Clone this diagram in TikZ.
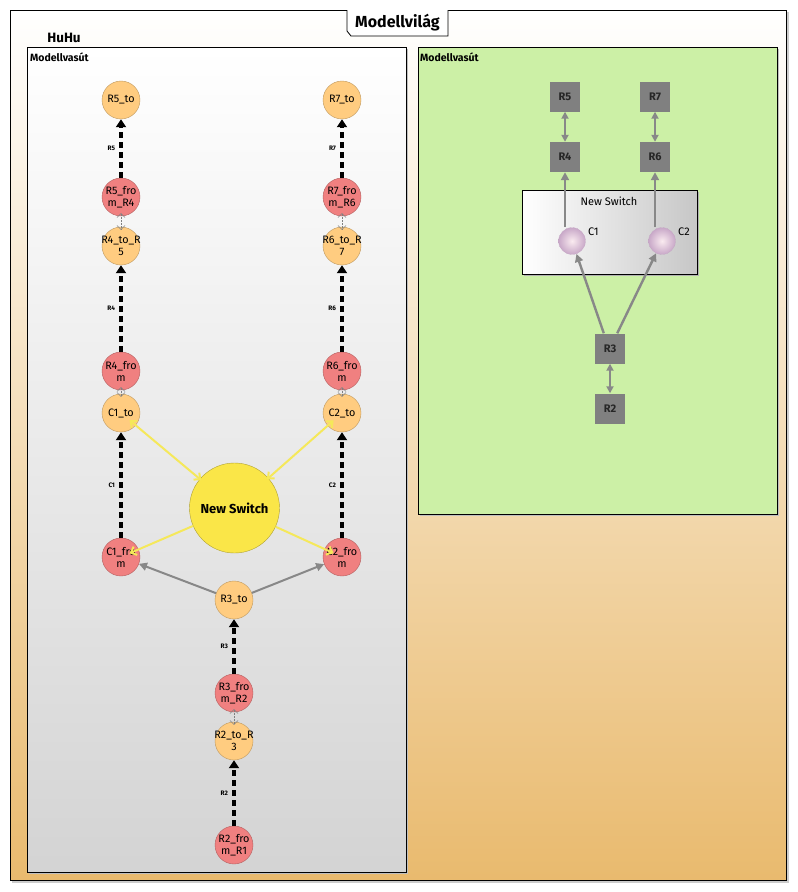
\documentclass[tikz,border=0pt]{standalone}
\usepackage{fontspec}
\setmainfont{Fira Sans}
\usetikzlibrary{arrows.meta,calc}
\definecolor{orangeN}{RGB}{255,204,128}
\definecolor{redN}{RGB}{240,128,128}
\definecolor{yellowN}{RGB}{250,230,72}
\definecolor{tanBg}{RGB}{233,186,110}
\definecolor{greenBg}{RGB}{204,240,166}
\definecolor{sqGray}{RGB}{128,128,128}
\definecolor{edgeGray}{RGB}{136,136,136}
\definecolor{lineYellow}{RGB}{245,232,90}
\tikzset{
  tonode/.style={circle,fill=orangeN,draw=orangeN!75!black,line width=0.4pt,minimum size=38pt,inner sep=-8pt,align=center,font=\fontsize{10.8}{12}\selectfont},
  fromnode/.style={tonode,fill=redN,draw=redN!75!black},
  switchnode/.style={circle,fill=yellowN,draw=yellowN!70!black,line width=0.4pt,minimum size=90pt,inner sep=0pt,font=\fontsize{13}{15}\selectfont\bfseries},
  dasharrow/.style={line width=4pt,dash pattern=on 6pt off 4pt,-{Triangle[length=8pt,width=10pt]}},
  dlabel/.style={left=4pt,font=\fontsize{6.5}{7}\selectfont\bfseries,inner sep=0pt},
  linkline/.style={draw=gray,line width=0.5pt,densely dotted,{Straight Barb[length=4pt,width=8pt]}-{Straight Barb[length=4pt,width=8pt]}},
  yline/.style={draw=lineYellow,line width=2pt},
  ybarb/.style={yline,-{Straight Barb[length=5pt,width=9pt]}},
  ybarbs/.style={yline,{Straight Barb[length=5pt,width=9pt]}-{Straight Barb[length=5pt,width=9pt]}},
  garrow/.style={draw=edgeGray,line width=2.4pt,-{Triangle[length=8pt,width=8pt]}},
  gdouble/.style={draw=edgeGray,line width=2.4pt,{Triangle[length=7pt,width=7pt]}-{Triangle[length=7pt,width=7pt]}},
  sqnode/.style={rectangle,fill=sqGray,minimum size=30pt,inner sep=0pt,font=\fontsize{11}{12}\selectfont\bfseries,text=black!85},
  portnode/.style={circle,inner color=purple!8,outer color={rgb,255:red,200;green,168;blue,200},draw={rgb,255:red,190;green,160;blue,190},densely dotted,line width=0.4pt,minimum size=27pt,inner sep=0pt},
  paneltitle/.style={font=\fontsize{10.5}{12}\selectfont\bfseries,anchor=west,inner sep=0pt}
}
\begin{document}
\begin{tikzpicture}[x=1pt,y=-1pt]
\useasboundingbox (0,0) rectangle (798,892);
\fill[white] (0,0) rectangle (798,892);
% outer frame
\fill[gray!40] (12,12) rectangle (789,883);
\shade[top color=white,bottom color=tanBg,draw=black,line width=0.8pt] (10,10) rectangle (786,880);
% title tab
\draw[fill=white,line width=0.8pt] (347,10) -- (347,31) -- (351,36) -- (448,36) -- (448,10);
\node[font=\fontsize{16}{18}\selectfont\bfseries] (title) at (397.5,23) {Modellvilág};
\node[font=\fontsize{13.5}{15}\selectfont\bfseries] (huhu) at (64,38) {HuHu};
% left panel
\fill[black!25] (29,49) rectangle (408,874);
\shade[top color=white,bottom color=black!17,draw=black,line width=0.8pt] (27,47) rectangle (406,872);
\node[paneltitle] (lt) at (30,57) {Modellvasút};
% right panel
\fill[black!25] (420,49) rectangle (779,516);
\draw[fill=greenBg,line width=0.8pt] (418,47) rectangle (777,514);
\node[paneltitle] (rt) at (420,57) {Modellvasút};

% ---- left graph nodes
\node[tonode] (r5to) at (121,100) {R5\_to};
\node[fromnode] (r5f) at (121,197) {R5\_fro\\m\_R4};
\node[tonode] (r4to) at (121,246) {R4\_to\_R\\5};
\node[fromnode] (r4f) at (121,371) {R4\_fro\\m};
\node[tonode] (c1to) at (121,413) {C1\_to};
\node[fromnode] (c1f) at (121,557) {C1\_fro\\m};
\node[tonode] (r7to) at (342,100) {R7\_to};
\node[fromnode] (r7f) at (342,197) {R7\_fro\\m\_R6};
\node[tonode] (r6to) at (342,246) {R6\_to\_R\\7};
\node[fromnode] (r6f) at (342,371) {R6\_fro\\m};
\node[tonode] (c2to) at (342,413) {C2\_to};
\node[fromnode] (c2f) at (342,557) {C2\_fro\\m};
\node[switchnode] (ns) at (234.5,508) {New Switch};
\node[tonode] (r3to) at (234,600) {R3\_to};
\node[fromnode] (r3f) at (234,693) {R3\_fro\\m\_R2};
\node[tonode] (r2to) at (234,741) {R2\_to\_R\\3};
\node[fromnode] (r2f) at (234,845) {R2\_fro\\m\_R1};

% dashed arrows
\draw[dasharrow] (r5f) -- node[dlabel]{R5} (r5to);
\draw[dasharrow] (r4f) -- node[dlabel]{R4} (r4to);
\draw[dasharrow] (c1f) -- node[dlabel]{C1} (c1to);
\draw[dasharrow] (r7f) -- node[dlabel]{R7} (r7to);
\draw[dasharrow] (r6f) -- node[dlabel]{R6} (r6to);
\draw[dasharrow] (c2f) -- node[dlabel]{C2} (c2to);
\draw[dasharrow] (r3f) -- node[dlabel]{R3} (r3to);
\draw[dasharrow] (r2f) -- node[dlabel]{R2} (r2to);

% thin links
\draw[linkline,shorten <=-3pt,shorten >=-3pt] (r5f.south) -- (r4to.north);
\draw[linkline,shorten <=-3pt,shorten >=-3pt] (r7f.south) -- (r6to.north);
\draw[linkline,shorten <=-3pt,shorten >=-3pt] (r4f.south) -- (c1to.north);
\draw[linkline,shorten <=-3pt,shorten >=-3pt] (r6f.south) -- (c2to.north);
\draw[linkline,shorten <=-3pt,shorten >=-3pt] (r3f.south) -- (r2to.north);

% yellow lines
\draw[ybarbs,shorten <=-2pt,shorten >=-8pt] (ns) -- (c1to);
\draw[ybarbs,shorten <=-2pt,shorten >=-8pt] (ns) -- (c2to);
\draw[ybarb,shorten >=-10pt] (ns) -- (c1f);
\draw[ybarb,shorten >=-10pt] (ns) -- (c2f);

% gray arrows
\draw[garrow,line width=2pt] (r3to) -- (c1f);
\draw[garrow,line width=2pt] (r3to) -- (c2f);

% ---- right graph
\node[sqnode] (sr5) at (565,96.5) {R5};
\node[sqnode] (sr7) at (655,96.5) {R7};
\node[sqnode] (sr4) at (565,157) {R4};
\node[sqnode] (sr6) at (655,157) {R6};
\fill[black!30] (524,192) rectangle (699,276);
\shade[left color=white,right color=black!22,draw=black,line width=0.8pt] (522,190) rectangle (697,274);
\node[font=\fontsize{11}{13}\selectfont] (nsl) at (609,201) {New Switch};
\node[portnode] (pc1) at (572,241) {};
\node[portnode] (pc2) at (662,241) {};
\node[font=\fontsize{11}{13}\selectfont,anchor=west,inner sep=0pt] (lc1) at (588,232) {C1};
\node[font=\fontsize{11}{13}\selectfont,anchor=west,inner sep=0pt] (lc2) at (678,232) {C2};
\node[sqnode] (sr3) at (610,348.5) {R3};
\node[sqnode] (sr2) at (610,408.5) {R2};
\coordinate (p1) at (565,227);
\coordinate (p2) at (655,227);
\draw[gdouble] (sr4) -- (sr5);
\draw[gdouble] (sr6) -- (sr7);
\draw[garrow] (p1) -- (sr4);
\draw[garrow] (p2) -- (sr6);
\draw[garrow] (sr3.north west) ++(9,0) -- (pc1);
\draw[garrow] (sr3.north east) ++(-8,0) -- (pc2);
\draw[gdouble] (sr2) -- (sr3);
\end{tikzpicture}
\end{document}
